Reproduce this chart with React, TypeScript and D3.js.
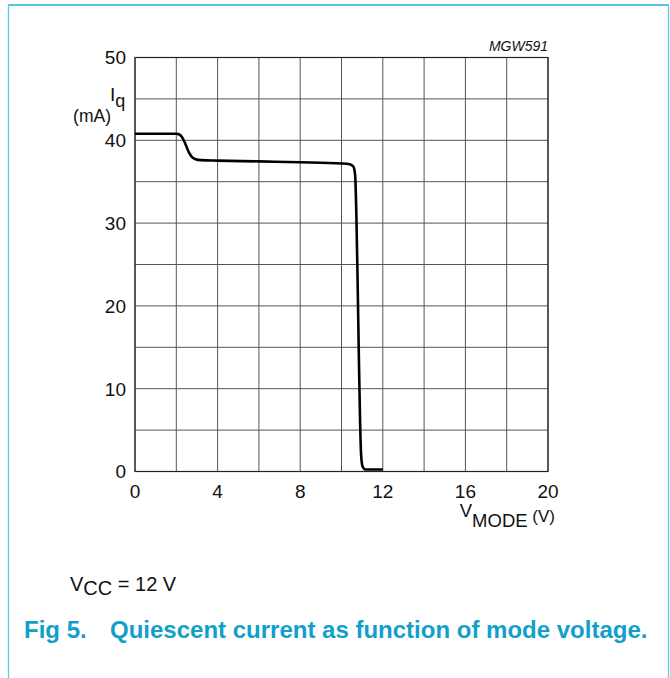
import React from 'react';
import * as d3 from 'd3';

// curve (V_MODE in volts, Iq in mA)
const modeVoltage = [0, 1, 2, 2.15, 2.3, 2.45, 2.6, 2.75, 2.9, 3.2, 4, 6, 8, 10, 10.4, 10.58, 10.66, 10.72, 10.78, 10.84, 10.9, 10.95, 11.02, 11.15, 12];
const quiescentCurrent = [40.8, 40.8, 40.8, 40.7, 40.3, 39.5, 38.6, 38.0, 37.75, 37.6, 37.55, 37.45, 37.35, 37.2, 37.1, 36.8, 35.8, 31, 23, 14, 6, 2, 0.6, 0.25, 0.25];

const xTicks = [0, 4, 8, 12, 16, 20];
const yTicks = [0, 10, 20, 30, 40, 50];
const xGrid = d3.range(0, 21, 2);
const yGrid = d3.range(0, 51, 5);

const FONT = 'Liberation Sans, Arial, Helvetica, sans-serif';
const CAPTION_BLUE = '#129fca';

export default function App() {
  const width = 670;
  const height = 678;
  const left = 135, right = 548, top = 57.5, bottom = 471.5;

  const x = d3.scaleLinear().domain([0, 20]).range([left, right]);
  const y = d3.scaleLinear().domain([0, 50]).range([bottom, top]);

  const points: [number, number][] = modeVoltage.map((v, i) => [v, quiescentCurrent[i]]);
  const line = d3.line<[number, number]>()
    .x(d => x(d[0]))
    .y(d => y(d[1]))
    .curve(d3.curveMonotoneX);

  return (
    <svg width={width} height={height} style={{ position: 'absolute', left: 0, top: 0, fontFamily: FONT }}>
      <rect x={0} y={0} width={width} height={height} fill="#fff" />
      {/* frame */}
      <line x1={8} y1={5} x2={669} y2={5} stroke="#22aed6" strokeWidth={1.5} />
      <line x1={8.5} y1={5} x2={8.5} y2={height} stroke="#6cc6e0" strokeWidth={1.3} />
      <line x1={668.5} y1={5} x2={668.5} y2={height} stroke="#6cc6e0" strokeWidth={1.3} />

      {/* grid */}
      <g stroke="#555" strokeWidth={1}>
        {xGrid.map(v => (
          <line key={'gx' + v} x1={x(v)} x2={x(v)} y1={top} y2={bottom} />
        ))}
        {yGrid.map(v => (
          <line key={'gy' + v} x1={left} x2={right} y1={y(v)} y2={y(v)} />
        ))}
      </g>
      <rect x={left} y={top} width={right - left} height={bottom - top} fill="none" stroke="#222" strokeWidth={1.2} />

      {/* curve */}
      <path d={line(points) ?? ''} fill="none" stroke="#000" strokeWidth={2.6} strokeLinejoin="round" />

      {/* y ticks */}
      {yTicks.map(v => (
        <text key={'ty' + v} x={126} y={y(v)} dy="0.36em" textAnchor="end" fontSize={19} fill="#111">{v}</text>
      ))}
      {/* x ticks */}
      {xTicks.map(v => (
        <text key={'tx' + v} x={x(v)} y={498} textAnchor="middle" fontSize={19} fill="#111">{v}</text>
      ))}

      {/* axis titles */}
      <text x={110} y={101} fontSize={19} fill="#111">
        I<tspan dy={6} fontSize={18}>q</tspan>
      </text>
      <text x={111} y={122} textAnchor="end" fontSize={17.5} fill="#111">(mA)</text>
      <text x={555} y={517} textAnchor="end" fontSize={18.5} fill="#111">
        V<tspan dy={10}>MODE</tspan><tspan dy={-5} fontSize={17}> (V)</tspan>
      </text>

      <text x={548} y={51} textAnchor="end" fontSize={14} fontStyle="italic" fill="#111">MGW591</text>

      <text x={70} y={591} fontSize={20} fill="#111">
        V<tspan dy={4}>CC</tspan><tspan dy={-4}> = 12 V</tspan>
      </text>

      <text x={24} y={638} fontSize={24} fontWeight="bold" fill={CAPTION_BLUE}>
        Fig 5.<tspan x={110}>Quiescent current as function of mode voltage.</tspan>
      </text>
    </svg>
  );
}
